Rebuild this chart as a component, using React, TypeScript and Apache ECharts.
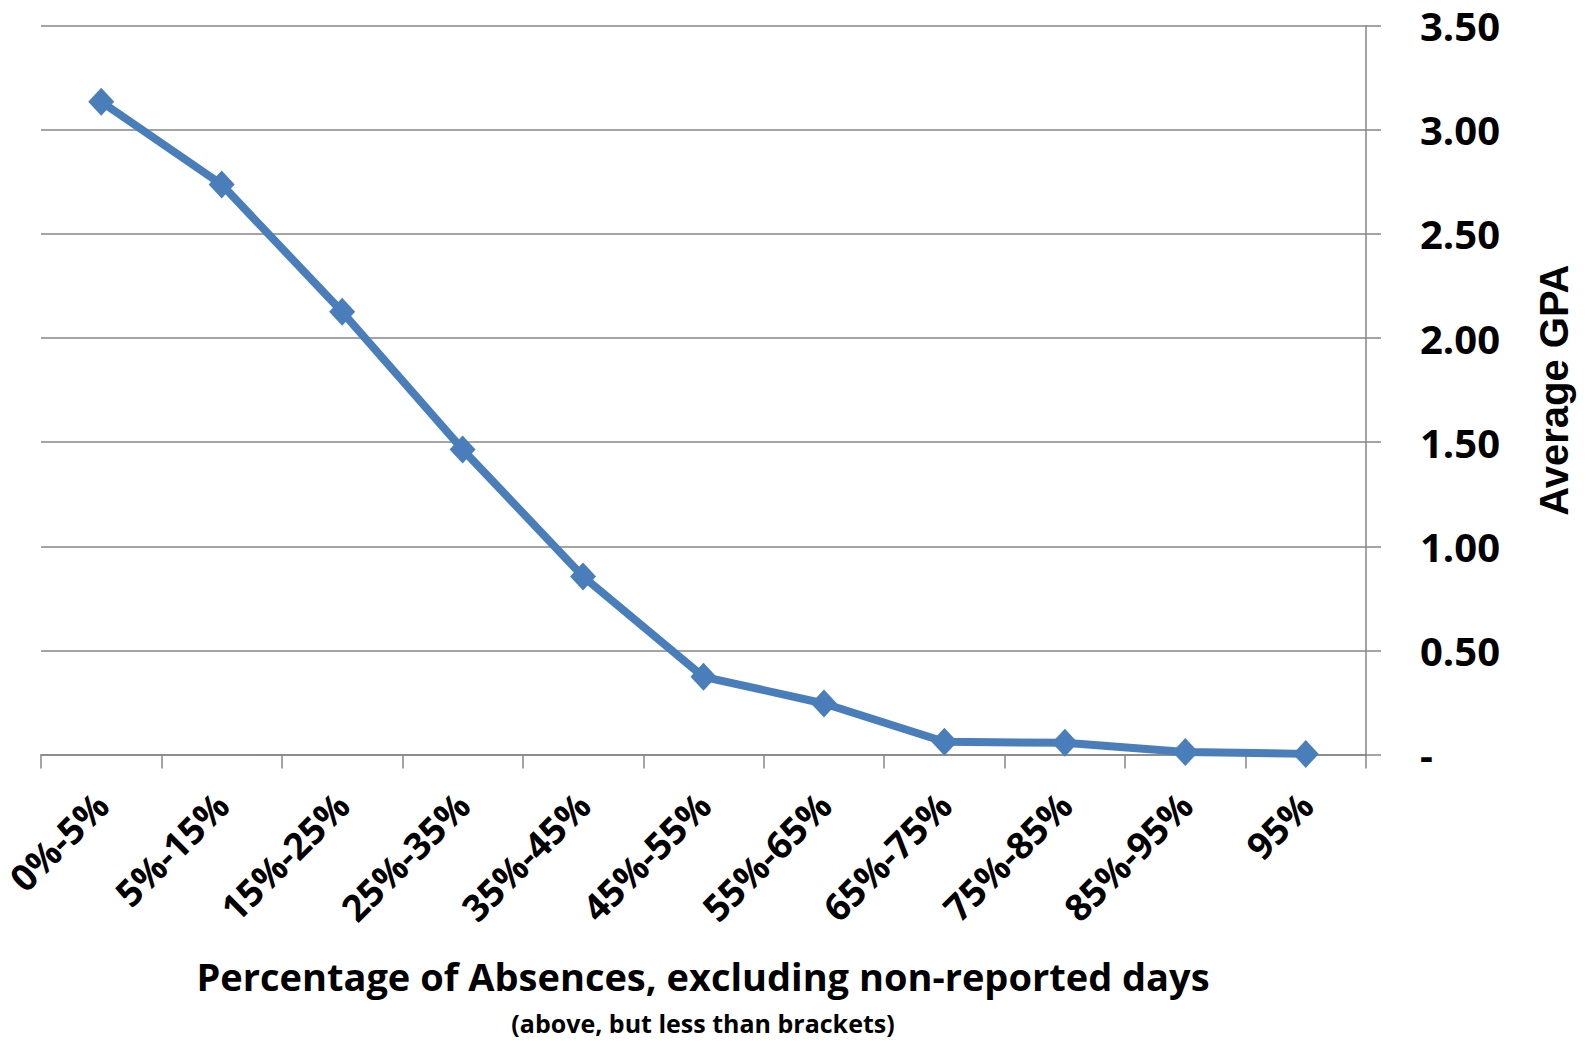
import React, { useEffect, useRef } from "react";
import * as echarts from "echarts";

const categories = ["0%-5%", "5%-15%", "15%-25%", "25%-35%", "35%-45%", "45%-55%", "55%-65%", "65%-75%", "75%-85%", "85%-95%", "95%"];
const gpaValues = [3.135, 2.737, 2.126, 1.465, 0.855, 0.373, 0.245, 0.061, 0.056, 0.012, 0.003];
const xTitle = "Percentage of Absences, excluding non-reported days";
const xSubtitle = "(above, but less than brackets)";
const yTitle = "Average GPA";

export default function App() {
  const ref = useRef<HTMLDivElement>(null);
  useEffect(() => {
    const chart = echarts.init(ref.current!, null, { renderer: "svg" });
    const labelFont = "'Open Sans', 'Noto Sans', sans-serif";
    chart.setOption({
      animation: false,
      backgroundColor: "#ffffff",
      grid: { left: 41, right: 230, top: 25.7, bottom: 286.5, containLabel: false },
      xAxis: {
        type: "category",
        data: categories,
        boundaryGap: true,
        axisLine: { show: true, lineStyle: { color: "#868686", width: 1.5 } },
        axisTick: { show: true, length: 14, lineStyle: { color: "#868686", width: 1.5 } },
        axisLabel: {
          rotate: 45,
          margin: 44,
          color: "#000",
          fontFamily: labelFont,
          fontWeight: "bold",
          fontSize: 37,
          interval: 0,
        },
        splitLine: { show: false },
      },
      yAxis: {
        type: "value",
        position: "right",
        min: 0,
        max: 3.5,
        interval: 0.5,
        name: yTitle,
        nameLocation: "middle",
        nameRotate: 90,
        nameGap: 168,
        nameTextStyle: {
          color: "#000",
          fontFamily: "'Liberation Sans', Arial, sans-serif",
          fontWeight: "bold",
          fontSize: 40,
        },
        axisLine: { show: true, lineStyle: { color: "#868686", width: 1.5 } },
        axisTick: { show: true, length: 15, lineStyle: { color: "#868686", width: 1.5 } },
        axisLabel: {
          margin: 54,
          align: "left",
          color: "#000",
          fontFamily: labelFont,
          fontWeight: "bold",
          fontSize: 40,
          formatter: (v: number) => (v === 0 ? "-" : v.toFixed(2)),
        },
        splitLine: { show: true, lineStyle: { color: "#868686", width: 1.5 } },
      },
      graphic: [
        {
          type: "text",
          x: 703,
          y: 976,
          style: {
            text: xTitle,
            font: "bold 38px 'Open Sans', sans-serif",
            textAlign: "center",
            textVerticalAlign: "middle",
            fill: "#000",
          },
        },
        {
          type: "text",
          x: 703,
          y: 1023,
          style: {
            text: xSubtitle,
            font: "bold 25px 'Open Sans', sans-serif",
            textAlign: "center",
            textVerticalAlign: "middle",
            fill: "#000",
          },
        },
      ],
      series: [
        {
          type: "line",
          data: gpaValues,
          symbol: "diamond",
          symbolSize: [26, 28],
          lineStyle: { color: "#4a7ebb", width: 8 },
          itemStyle: { color: "#4a7ebb" },
        },
      ],
    });
    return () => chart.dispose();
  }, []);
  return (
    <div
      ref={ref}
      style={{ position: "absolute", left: 0, top: 0, width: 1596, height: 1041 }}
    />
  );
}
